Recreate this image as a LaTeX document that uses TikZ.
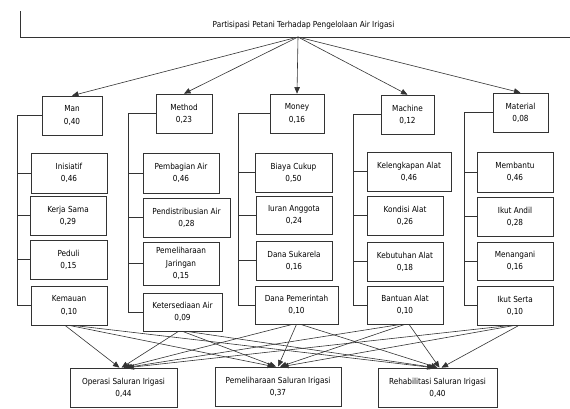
\documentclass[tikz,border=0pt]{standalone}
\usepackage{fontspec}
\setmainfont{DejaVu Sans}[FakeStretch=0.88]
\usetikzlibrary{arrows.meta,calc}
\tikzset{
  txt/.style={font=\fontsize{8.3}{12.3}\selectfont},
  box/.style={draw=black!80, line width=0.7pt, inner sep=0pt, align=center, txt},
  conn/.style={draw=black!80, line width=0.6pt},
  arr/.style={conn, -{Triangle[length=6.5pt,width=5.5pt]}},
}
\newcommand{\bx}[6]{% name, x1, x2, y1, y2, text
  \node[box, minimum width={(#3-#2)*1pt}, minimum height={(#5-#4)*1pt}] (#1) at ({(#2+#3)/2},{(#4+#5)/2}) {#6};}
\begin{document}
\begin{tikzpicture}[x=1pt,y=-1pt]
\useasboundingbox (0,0) rectangle (570,408);
% title
\node[txt, inner sep=0pt] (title) at (303.5,25) {Partisipasi Petani Terhadap Pengelolaan Air Irigasi};
\coordinate (tl) at (20,11);
\coordinate (bl) at (20,37);
\coordinate (br) at (570,37);
\coordinate (src) at (298,37);
\draw[conn] (tl) -- (bl) -- (br);
% level 1
\bx{man}{42}{102}{96}{135}{Man\\0,40}
\bx{method}{156}{212}{94}{133}{Method\\0,23}
\bx{money}{270}{324}{94}{133}{Money\\0,16}
\bx{machine}{381}{434}{95}{134}{Machine\\0,12}
\bx{material}{493}{548}{93}{132}{Material\\0,08}
\foreach \n in {man,method,money,machine,material} \draw[arr] (src) -- (\n.north);
% Man column
\bx{ini}{31}{107}{153}{193}{Inisiatif\\0,46}
\bx{kerja}{30}{106}{196}{235}{Kerja Sama\\0,29}
\bx{peduli}{30}{107}{240}{279}{Peduli\\0,15}
\bx{kem}{31}{107}{286}{325}{Kemauan\\0,10}
% Method column
\bx{pemb}{143}{219}{153}{193}{Pembagian Air\\0,46}
\bx{pend}{143}{230}{198}{237}{Pendistribusian Air\\0,28}
\bx{pemj}{143}{219}{242}{285}{Pemeliharaan\\Jaringan\\0,15}
\bx{ket}{143}{222}{293}{331}{Ketersediaan Air\\0,09}
% Money column
\bx{biaya}{255}{332}{153}{192}{Biaya Cukup\\0,50}
\bx{iuran}{256}{332}{196}{234}{Iuran Anggota\\0,24}
\bx{danas}{256}{332}{241}{280}{Dana Sukarela\\0,16}
\bx{danap}{255}{338}{286}{324}{Dana Pemerintah\\0,10}
% Machine column
\bx{kel}{367}{451}{152}{191}{Kelengkapan Alat\\0,46}
\bx{kond}{367}{443}{196}{235}{Kondisi Alat\\0,26}
\bx{kebu}{367}{443}{242}{281}{Kebutuhan Alat\\0,18}
\bx{bant}{367}{443}{286}{324}{Bantuan Alat\\0,10}
% Material column
\bx{memb}{477}{553}{152}{192}{Membantu\\0,46}
\bx{ikuta}{477}{553}{197}{236}{Ikut Andil\\0,28}
\bx{menang}{477}{553}{242}{280}{Menangani\\0,16}
\bx{ikuts}{477}{553}{286}{325}{Ikut Serta\\0,10}
% bottom
\bx{ops}{70}{177}{368}{407}{Operasi Saluran Irigasi\\0,44}
\bx{pem}{215}{341}{367}{406}{Pemeliharaan Saluran Irigasi\\0,37}
\bx{reh}{378}{497}{368}{407}{Rehabilitasi Saluran Irigasi\\0,40}
% side buses
\coordinate (busman) at (17,0);
\coordinate (busmethod) at (128,0);
\coordinate (busmoney) at (238,0);
\coordinate (busmachine) at (353,0);
\coordinate (busmaterial) at (464,0);
\draw[conn] (man.west) -- (busman |- man.west) |- (kem.west);
\foreach \b in {ini,kerja,peduli} \draw[conn] (busman |- \b.west) -- (\b.west);
\draw[conn] (method.west) -- (busmethod |- method.west) |- (ket.west);
\foreach \b in {pemb,pend,pemj} \draw[conn] (busmethod |- \b.west) -- (\b.west);
\draw[conn] (money.west) -- (busmoney |- money.west) |- (danap.west);
\foreach \b in {biaya,iuran,danas} \draw[conn] (busmoney |- \b.west) -- (\b.west);
\draw[conn] (machine.west) -- (busmachine |- machine.west) |- (bant.west);
\foreach \b in {kel,kond,kebu} \draw[conn] (busmachine |- \b.west) -- (\b.west);
\draw[conn] (material.west) -- (busmaterial |- material.west) |- (ikuts.west);
\foreach \b in {memb,ikuta,menang} \draw[conn] (busmaterial |- \b.west) -- (\b.west);
% bottom arrows
\foreach \s/\i in {kem/0,ket/1,danap/2,bant/3,ikuts/4}
  \foreach \t/\j in {ops/0,pem/1,reh/2}
    \draw[arr] ($(\s.south)+({(\j-1)*4},0)$) -- ($(\t.north)+({(\i-2)*2},0)$);
\end{tikzpicture}
\end{document}
